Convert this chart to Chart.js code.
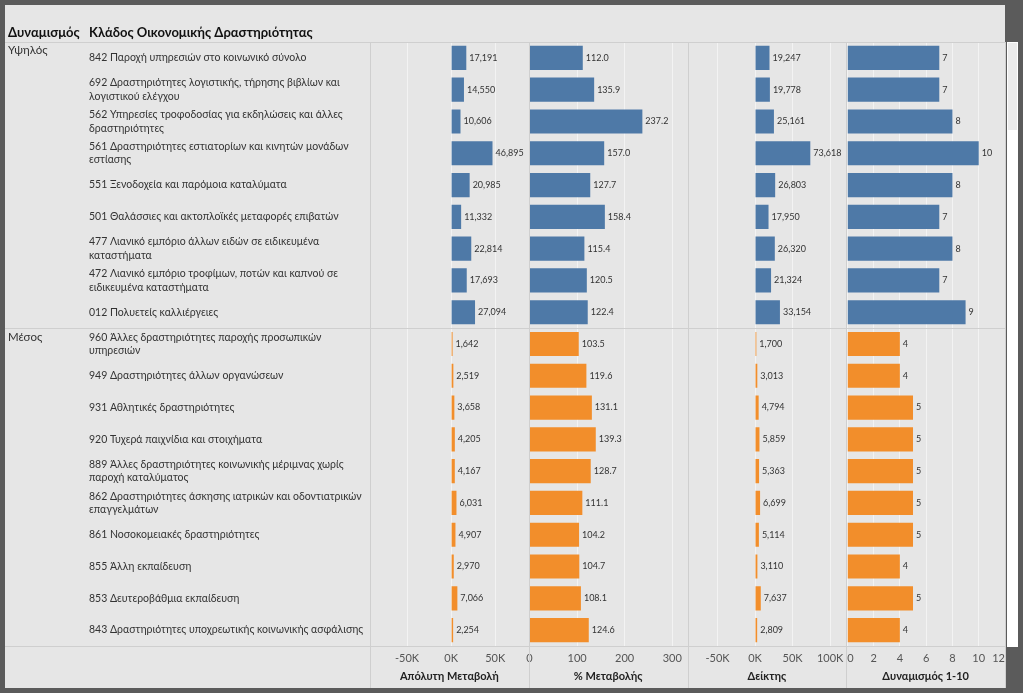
<!DOCTYPE html>
<html>
<head>
<meta charset="utf-8">
<script src="https://cdn.jsdelivr.net/npm/chart.js@4/dist/chart.umd.min.js"></script>
<style>
  html, body { margin: 0; padding: 0; background: #5b5b5b; overflow: hidden; }
  canvas { display: block; }
</style>
</head>
<body>
<canvas id="chart" width="1023" height="693"></canvas>
<script>
const categories = [
  "842 Παροχή υπηρεσιών στο κοινωνικό σύνολο",
  ["692 Δραστηριότητες λογιστικής, τήρησης βιβλίων και", "λογιστικού ελέγχου"],
  ["562 Υπηρεσίες τροφοδοσίας για εκδηλώσεις και άλλες", "δραστηριότητες"],
  ["561 Δραστηριότητες εστιατορίων και κινητών μονάδων", "εστίασης"],
  "551 Ξενοδοχεία και παρόμοια καταλύματα",
  "501 Θαλάσσιες και ακτοπλοϊκές μεταφορές επιβατών",
  ["477 Λιανικό εμπόριο άλλων ειδών σε ειδικευμένα", "καταστήματα"],
  ["472 Λιανικό εμπόριο τροφίμων, ποτών και καπνού σε", "ειδικευμένα καταστήματα"],
  "012 Πολυετείς καλλιέργειες",
  ["960 Άλλες δραστηριότητες παροχής προσωπικών", "υπηρεσιών"],
  "949 Δραστηριότητες άλλων οργανώσεων",
  "931 Αθλητικές δραστηριότητες",
  "920 Τυχερά παιχνίδια και στοιχήματα",
  ["889 Άλλες δραστηριότητες κοινωνικής μέριμνας χωρίς", "παροχή καταλύματος"],
  ["862 Δραστηριότητες άσκησης ιατρικών και οδοντιατρικών", "επαγγελμάτων"],
  "861 Νοσοκομειακές δραστηριότητες",
  "855 Άλλη εκπαίδευση",
  "853 Δευτεροβάθμια εκπαίδευση",
  "843 Δραστηριότητες υποχρεωτικής κοινωνικής ασφάλισης"
];
const groups = ["Υψηλός", "Υψηλός", "Υψηλός", "Υψηλός", "Υψηλός", "Υψηλός", "Υψηλός", "Υψηλός", "Υψηλός",
  "Μέσος", "Μέσος", "Μέσος", "Μέσος", "Μέσος", "Μέσος", "Μέσος", "Μέσος", "Μέσος", "Μέσος"];

const absChange = [17191, 14550, 10606, 46895, 20985, 11332, 22814, 17693, 27094,
  1642, 2519, 3658, 4205, 4167, 6031, 4907, 2970, 7066, 2254];
const pctChange = [112.0, 135.9, 237.2, 157.0, 127.7, 158.4, 115.4, 120.5, 122.4,
  103.5, 119.6, 131.1, 139.3, 128.7, 111.1, 104.2, 104.7, 108.1, 124.6];
const indexVals = [19247, 19778, 25161, 73618, 26803, 17950, 26320, 21324, 33154,
  1700, 3013, 4794, 5859, 5363, 6699, 5114, 3110, 7637, 2809];
const dynVals = [7, 7, 8, 10, 8, 7, 8, 7, 9, 4, 4, 5, 5, 5, 5, 5, 4, 5, 4];

const absTicks = [-50000, 0, 50000];
const pctTicks = [0, 100, 200, 300];
const indexTicks = [-50000, 0, 50000, 100000];
const dynTicks = [0, 2, 4, 6, 8, 10, 12];

const groupColors = { "Υψηλός": "#4e79a7", "Μέσος": "#f28e2b" };
const barColors = groups.map(g => groupColors[g]);

const FONT = "Lato, 'Open Sans', sans-serif";
Chart.defaults.font.family = FONT;
Chart.defaults.color = "#333";

const kFormat = v => (v / 1000) + "K";

function xAxis(title, min, max, tickList, fmt, align) {
  return {
    type: "linear",
    position: "bottom",
    stack: "panels",
    stackWeight: 1,
    min: min,
    max: max,
    afterBuildTicks: scale => { scale.ticks = tickList.map(v => ({ value: v })); },
    afterFit: scale => { scale.height = 42; },
    grid: { color: "rgba(255,255,255,0.5)", lineWidth: 1, drawTicks: false },
    border: { display: false },
    ticks: {
      autoSkip: false, maxRotation: 0, padding: 6,
      align: align || "center",
      color: "#555", font: { size: 11 },
      callback: v => fmt(v)
    },
    title: {
      display: true, text: title, color: "#222",
      font: { size: 11, weight: "bold" },
      padding: { top: 0, bottom: 5 }
    }
  };
}

function dataset(values, axisId) {
  return {
    data: values,
    xAxisID: axisId,
    backgroundColor: barColors,
    grouped: false,
    barPercentage: 0.76,
    categoryPercentage: 1
  };
}

// frame, header, group labels and separator lines drawn around the chart area
const framePlugin = {
  id: "frame",
  beforeDraw(chart) {
    const ctx = chart.ctx;
    const { right, top, bottom } = chart.chartArea;
    ctx.save();
    ctx.fillStyle = "#5b5b5b";
    ctx.fillRect(0, 0, chart.width, chart.height);
    ctx.fillStyle = "#e6e6e6";
    ctx.fillRect(5, 5, right - 5, chart.height - 10);
    // scrollbar strip
    ctx.fillStyle = "#ffffff";
    ctx.fillRect(right + 2, top, 11, bottom - top + 1);
    ctx.fillStyle = "#ebebeb";
    ctx.fillRect(right + 3, top + 1, 9, 87);
    ctx.restore();
  },
  afterDraw(chart) {
    const ctx = chart.ctx;
    const { left, right, top, bottom } = chart.chartArea;
    const y = chart.scales.y;
    ctx.save();
    ctx.strokeStyle = "#cfcfcf";
    ctx.lineWidth = 1;
    const hLine = yy => { ctx.beginPath(); ctx.moveTo(5, yy); ctx.lineTo(right, yy); ctx.stroke(); };
    hLine(Math.round(top) + 0.5);
    hLine(Math.round(bottom) + 0.5);
    // boundaries between groups
    for (let i = 1; i < groups.length; i++) {
      if (groups[i] !== groups[i - 1]) {
        const yy = (y.getPixelForValue(i - 1) + y.getPixelForValue(i)) / 2;
        hLine(Math.round(yy) + 0.5);
      }
    }
    // panel separators
    const edges = [left, chart.scales.x1.right, chart.scales.x2.right, chart.scales.x3.right, right];
    edges.forEach(xx => {
      ctx.beginPath();
      ctx.moveTo(Math.round(xx) + 0.5, top);
      ctx.lineTo(Math.round(xx) + 0.5, chart.height - 5);
      ctx.stroke();
    });
    // header
    ctx.fillStyle = "#111";
    ctx.font = "bold 13px " + FONT;
    ctx.textBaseline = "alphabetic";
    ctx.textAlign = "left";
    ctx.fillText("Δυναμισμός", 8, 37);
    ctx.fillText("Κλάδος Οικονομικής Δραστηριότητας", 89, 37);
    // group names at top of each group
    ctx.font = "11.5px " + FONT;
    ctx.fillStyle = "#333";
    ctx.textBaseline = "top";
    for (let i = 0; i < groups.length; i++) {
      if (i === 0 || groups[i] !== groups[i - 1]) {
        const yy = i === 0 ? top : (y.getPixelForValue(i - 1) + y.getPixelForValue(i)) / 2;
        ctx.fillText(groups[i], 8, yy + 3);
      }
    }
    ctx.restore();
  }
};

// value labels at the end of each bar
const valueLabels = {
  id: "valueLabels",
  afterDatasetsDraw(chart) {
    const ctx = chart.ctx;
    const formats = [
      v => v.toLocaleString("en-US"),
      v => v.toFixed(1),
      v => v.toLocaleString("en-US"),
      v => String(v)
    ];
    ctx.save();
    ctx.font = "9px " + FONT;
    ctx.fillStyle = "#333";
    ctx.textAlign = "left";
    ctx.textBaseline = "middle";
    chart.data.datasets.forEach((ds, di) => {
      chart.getDatasetMeta(di).data.forEach((bar, i) => {
        ctx.fillText(formats[di](ds.data[i]), bar.x + 3, bar.y);
      });
    });
    ctx.restore();
  }
};

new Chart(document.getElementById("chart"), {
  type: "bar",
  data: {
    labels: categories,
    datasets: [
      dataset(absChange, "x1"),
      dataset(pctChange, "x2"),
      dataset(indexVals, "x3"),
      dataset(dynVals, "x4")
    ]
  },
  options: {
    indexAxis: "y",
    responsive: false,
    animation: false,
    layout: { padding: { left: 89, top: 42, right: 18, bottom: 5 } },
    plugins: { legend: { display: false }, tooltip: { enabled: false } },
    scales: {
      y: {
        type: "category",
        grid: { display: false },
        border: { display: false },
        afterFit: scale => { scale.width = 281; },
        ticks: {
          autoSkip: false, crossAlign: "far", color: "#333",
          font: { size: 10.5, lineHeight: 1.3 }
        }
      },
      x1: xAxis("Απόλυτη Μεταβολή", -92000, 88000, absTicks, kFormat),
      x2: xAxis("% Μεταβολής", -1.5, 332, pctTicks, v => String(v)),
      x3: xAxis("Δείκτης", -90000, 121500, indexTicks, kFormat),
      x4: xAxis("Δυναμισμός 1-10", -0.08, 12, dynTicks, v => String(v), "inner")
    }
  },
  plugins: [framePlugin, valueLabels]
});
</script>
</body>
</html>
